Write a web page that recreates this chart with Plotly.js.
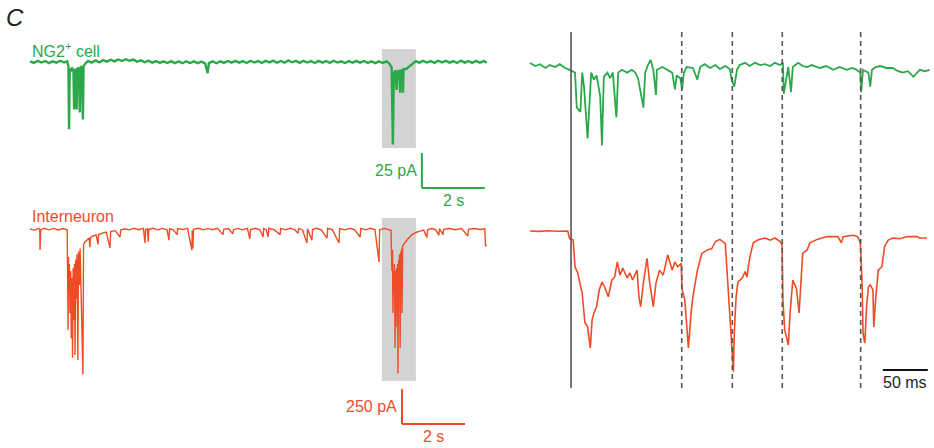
<!DOCTYPE html>
<html><head><meta charset="utf-8">
<script src="https://cdn.plot.ly/plotly-3.0.1.min.js"></script>
<style>html,body{margin:0;padding:0;background:#fff}#chart{width:934px;height:448px}</style>
</head><body><div id="chart"></div>
<script>
// ---------------- DATA ----------------
// Left panel: NG2+ cell, whole trace (time s, current pA)
const ng2T = [0.00,0.12,0.24,0.36,0.48,0.60,0.72,0.84,0.96,1.08,1.18,1.22,1.24,1.26,1.30,1.34,1.38,1.40,1.42,1.46,1.48,1.50,1.55,1.58,1.60,1.64,1.68,1.70,1.76,1.84,1.96,2.08,2.20,2.32,2.44,2.56,2.68,2.80,2.92,3.04,3.16,3.28,3.40,3.52,3.64,3.76,3.88,4.00,4.12,4.24,4.36,4.48,4.60,4.72,4.84,4.96,5.08,5.20,5.32,5.44,5.56,5.64,5.68,5.80,5.92,6.04,6.16,6.28,6.40,6.52,6.64,6.76,6.88,7.00,7.12,7.24,7.36,7.48,7.60,7.72,7.84,7.96,8.08,8.20,8.32,8.44,8.56,8.68,8.80,8.92,9.04,9.16,9.28,9.40,9.52,9.64,9.76,9.88,10.00,10.12,10.24,10.36,10.48,10.60,10.72,10.84,10.96,11.08,11.20,11.32,11.42,11.48,11.52,11.55,11.60,11.64,11.66,11.72,11.75,11.77,11.82,11.84,11.86,11.95,12.05,12.15,12.25,12.36,12.48,12.60,12.72,12.84,12.96,13.08,13.20,13.32,13.44,13.56,13.68,13.80,13.92,14.04,14.16,14.28,14.40,14.50];
const ng2I = [0.4,-0.6,0.8,-0.4,0.7,-0.8,0.5,-0.5,0.9,-0.4,0.5,-3,-48,-5,-6,-4,-7,-34,-6,-5,-34,-5,-4,-36,-4,-3,-41,-3,-1,0.8,-0.4,1.1,-0.3,1.3,0.3,1.6,0.4,1.8,0.7,2.0,0.9,1.7,0.3,1.2,-0.2,1.0,-0.4,0.7,-0.6,0.5,-0.7,0.6,-0.8,0.4,-0.9,0.5,-0.7,0.5,-0.8,0.3,-1.0,-8,-0.8,0.4,-0.9,0.5,-0.6,0.7,-0.5,0.8,-0.5,0.6,-0.7,0.9,-0.4,0.7,-0.6,0.8,-0.3,1.0,-0.5,0.7,-0.5,1.1,-0.2,0.8,-0.6,0.9,-0.4,0.6,-0.7,0.8,-0.5,0.7,-0.6,0.9,-0.4,0.5,-0.7,0.6,-0.5,0.8,-0.5,0.7,-0.6,0.5,-0.8,0.5,-0.7,0.4,-1.5,-4,-59,-8,-6,-20,-7,-6,-22,-6,-6,-22,-5,-5,-3,-1,0.6,-0.5,0.8,-0.4,0.7,-0.6,0.9,-0.3,0.8,-0.5,0.6,-0.7,1.0,-0.4,0.7,-0.6,0.8,-0.5,0.6,-0.4];

// Left panel: interneuron, whole trace (time s, current pA)
const intT = [0.00,0.15,0.28,0.31,0.32,0.34,0.45,0.60,0.75,0.90,1.05,1.18,1.21,1.22,1.24,1.25,1.27,1.29,1.31,1.33,1.35,1.37,1.39,1.41,1.43,1.45,1.47,1.49,1.52,1.54,1.57,1.59,1.68,1.70,1.75,1.82,1.88,1.90,1.92,2.00,2.10,2.16,2.18,2.30,2.42,2.54,2.56,2.70,2.86,2.88,3.00,3.15,3.30,3.45,3.60,3.65,3.67,3.73,3.75,3.77,3.90,4.05,4.20,4.35,4.41,4.43,4.55,4.67,4.69,4.85,5.00,5.14,5.15,5.17,5.19,5.35,5.50,5.65,5.80,5.95,6.13,6.15,6.30,6.44,6.46,6.60,6.75,6.90,6.98,7.00,7.15,7.30,7.40,7.42,7.50,7.56,7.58,7.75,7.94,7.96,8.10,8.25,8.40,8.51,8.53,8.65,8.79,8.81,8.95,8.97,9.10,9.25,9.43,9.45,9.60,9.81,9.83,10.00,10.15,10.30,10.48,10.50,10.65,10.80,10.95,11.08,11.10,11.25,11.40,11.46,11.49,11.51,11.52,11.54,11.56,11.57,11.59,11.61,11.62,11.64,11.65,11.67,11.68,11.70,11.71,11.73,11.75,11.77,11.78,11.80,11.81,11.83,11.86,11.90,12.00,12.13,12.25,12.38,12.50,12.60,12.62,12.75,12.88,12.98,13.00,13.11,13.13,13.30,13.50,13.70,13.90,13.92,14.10,14.30,14.44,14.46,14.50];
const intI = [0,-8,4,-5,-150,-6,5,-6,4,-7,3,-5,-720,-200,-450,-250,-600,-300,-780,-350,-920,-280,-650,-250,-900,-220,-500,-180,-935,-160,-400,-140,-1040,-110,-90,-75,-65,-130,-60,-50,-42,-110,-40,-30,-22,-135,-18,-12,-57,-8,2,-6,5,-5,4,-100,-3,2,-90,-4,5,-6,4,-5,-80,2,-6,-40,3,-4,5,-150,-10,-140,-3,5,-6,4,-5,5,-40,-3,4,-35,-5,4,-6,5,-70,-4,5,-6,-57,3,-5,-57,4,-5,-40,4,-6,5,-4,-30,3,-5,-100,2,-80,-4,5,-6,-65,4,-5,-100,3,-6,5,-4,-57,4,-6,5,-4,-235,-5,4,-6,-10,-300,-150,-600,-300,-450,-250,-850,-300,-500,-280,-700,-250,-1030,-220,-400,-180,-850,-160,-300,-140,-600,-120,-110,-100,-70,-40,-25,-15,-8,-60,-5,3,-5,-45,2,-40,-3,4,-5,3,-50,-2,4,-4,2,-120,-120];

// Right panel: expanded view (time ms, current pA)
const ng2ZoomT = [0,6,11,17,22,28,33,39,44,50,52,56,58,60,64,68,71,74,78,80,82,86,89,92,96,98,102,108,113,117,120,126,128,131,134,137,140,141,147,152,158,161,163,167,169,171,174,181,186,189,194,200,206,211,217,222,224,227,230,233,239,244,250,256,261,267,272,278,281,282,286,287,290,292,298,303,308,313,322,329,337,344,352,358,363,367,368,370,376,378,380,384,389,396,403,409,414,420,426,430,433,439,444];
const ng2ZoomI = [2.9,0.7,2,-0.7,1.4,0,2,-0.7,-2,-4,-29,-32,-4,-14,-51,-4,-9,-6,-21,-56,-7,-4,-8,-4,-36,-4,-2,-4,-2,-4,-8,-29,-4,1.4,5,-2,-20,-2,0,-2,-4,-16,-6,-8,-16,-4,0,-0.7,-9,0,2,-0.7,1.4,-1.4,0.7,-1.4,-9,-14,-2,1.4,3,0.7,3,1.4,2,0.7,3,1.4,3,-19,-2,0,-18,0,3,0.7,0,1.4,-0.7,0.7,-2,0,-2,-0.7,-2,-4,-18,-2,-4,-14,-2,0,0.7,-0.7,-0.7,-3,-4,-3,-7,-4,-2,-3,-2];

const intZoomT = [0,10,20,30,42,44,48,50,53,58,61,64,67,69,71,74,77,80,83,87,91,94,97,100,103,108,111,114,119,121,123,126,130,133,137,140,144,148,153,158,161,164,168,169,172,176,179,181,186,191,197,202,206,211,217,220,223,226,227,229,231,236,239,241,244,248,253,261,267,272,278,280,281,283,287,289,292,296,299,301,303,308,311,319,330,342,346,348,359,364,367,369,370,372,374,376,378,381,382,384,387,391,394,398,403,411,419,430,433,441];
const intZoomI = [0,-3,2,-2,0,-55,-65,-255,-300,-445,-655,-685,-835,-635,-585,-540,-420,-365,-400,-470,-350,-330,-220,-315,-265,-335,-300,-350,-280,-470,-540,-370,-195,-370,-540,-370,-280,-315,-170,-280,-220,-255,-230,-420,-490,-835,-585,-470,-280,-160,-135,-125,-75,-60,-90,-370,-685,-1005,-730,-470,-365,-335,-290,-330,-195,-85,-65,-50,-65,-50,-75,-100,-490,-705,-815,-585,-350,-410,-585,-330,-160,-135,-85,-60,-40,-40,-85,-40,-30,-40,-85,-370,-730,-800,-540,-400,-385,-420,-685,-490,-280,-255,-110,-65,-50,-55,-40,-40,-50,-50];

// Event onsets marked in the expanded view (ms)
const onsetSolid = [45.6];
const onsetDashed = [168.6, 224.8, 280.3, 367.4];

// Shaded window of the whole trace that is expanded (s)
const windowS = [11.17, 12.25];

// Scale bars
const ng2Bar = {pA: 25, s: 2};
const intBar = {pA: 250, s: 2};
const zoomBar = {ms: 50};

// ---------------- LAYOUT ----------------
const W = 934, H = 448;
const GREEN = '#2aa84a', RED = '#ef4b26', GREY = '#d3d3d3', DARK = '#555555';
const FONT = 'Liberation Sans, Arial, Helvetica, sans-serif';

function xAx(pxL, pxR, pxRef, pxPerUnit) {
  return {domain: [pxL / W, pxR / W], range: [(pxL - pxRef) / pxPerUnit, (pxR - pxRef) / pxPerUnit], visible: false, fixedrange: true};
}
function yAx(pxTop, pxBot, pxRef, pxPerUnit, anchor) {
  return {domain: [1 - pxBot / H, 1 - pxTop / H], range: [(pxRef - pxBot) / pxPerUnit, (pxRef - pxTop) / pxPerUnit], visible: false, fixedrange: true, anchor: anchor};
}
const py = p => 1 - p / H;

const traces = [
  {x: ng2T, y: ng2I, xaxis: 'x', yaxis: 'y', mode: 'lines', line: {color: GREEN, width: 2.4}, hoverinfo: 'skip'},
  {x: intT, y: intI, xaxis: 'x', yaxis: 'y2', mode: 'lines', line: {color: RED, width: 1.4}, hoverinfo: 'skip'},
  {x: ng2ZoomT, y: ng2ZoomI, xaxis: 'x2', yaxis: 'y3', mode: 'lines', line: {color: GREEN, width: 1.8}, hoverinfo: 'skip'},
  {x: intZoomT, y: intZoomI, xaxis: 'x2', yaxis: 'y4', mode: 'lines', line: {color: RED, width: 1.6}, hoverinfo: 'skip'}
];

// scale-bar anchors (layout positions)
const gBarT = 12.44, gBarV = -90;
const rBarT = 11.81, rBarV = -1393;
const zBarT = 392, zBarV = -993;

const shapes = [
  {type: 'rect', xref: 'x', yref: 'y', x0: windowS[0], x1: windowS[1], y0: -61.4, y1: 9.3, fillcolor: GREY, line: {width: 0}, layer: 'below'},
  {type: 'rect', xref: 'x', yref: 'y2', x0: windowS[0], x1: windowS[1], y0: -1086, y1: 79, fillcolor: GREY, line: {width: 0}, layer: 'below'},
  {type: 'line', xref: 'x', yref: 'y', x0: gBarT, x1: gBarT, y0: gBarV, y1: gBarV + ng2Bar.pA, line: {color: GREEN, width: 2}},
  {type: 'line', xref: 'x', yref: 'y', x0: gBarT, x1: gBarT + ng2Bar.s, y0: gBarV, y1: gBarV, line: {color: GREEN, width: 2}},
  {type: 'line', xref: 'x', yref: 'y2', x0: rBarT, x1: rBarT, y0: rBarV, y1: rBarV + intBar.pA, line: {color: RED, width: 2}},
  {type: 'line', xref: 'x', yref: 'y2', x0: rBarT, x1: rBarT + intBar.s, y0: rBarV, y1: rBarV, line: {color: RED, width: 2}},
  {type: 'line', xref: 'x2', yref: 'y4', x0: zBarT, x1: zBarT + zoomBar.ms, y0: zBarV, y1: zBarV, line: {color: '#111', width: 2}}
];
onsetSolid.forEach(t => shapes.push({type: 'line', xref: 'x2', yref: 'paper', x0: t, x1: t, y0: py(388), y1: py(32), line: {color: DARK, width: 1.6}}));
onsetDashed.forEach(t => shapes.push({type: 'line', xref: 'x2', yref: 'paper', x0: t, x1: t, y0: py(388), y1: py(32), line: {color: DARK, width: 1.6, dash: '5px,4px'}}));

const ann = (o) => Object.assign({showarrow: false, font: {family: FONT, size: 16}}, o);
const annotations = [
  ann({xref: 'paper', yref: 'paper', x: 4 / W, y: py(17), xanchor: 'left', yanchor: 'middle', text: '<i>C</i>', font: {family: FONT, size: 24, color: '#222'}}),
  ann({xref: 'paper', yref: 'paper', x: 30 / W, y: py(50), xanchor: 'left', yanchor: 'middle', text: 'NG2<sup>+</sup> cell', font: {family: FONT, size: 16, color: GREEN}}),
  ann({xref: 'paper', yref: 'paper', x: 30 / W, y: py(216), xanchor: 'left', yanchor: 'middle', text: 'Interneuron', font: {family: FONT, size: 16, color: RED}}),
  ann({xref: 'x', yref: 'y', x: gBarT, y: gBarV + ng2Bar.pA / 2, xanchor: 'right', yanchor: 'middle', xshift: -3, text: ng2Bar.pA + ' pA', font: {family: FONT, size: 16, color: GREEN}}),
  ann({xref: 'x', yref: 'y', x: gBarT + ng2Bar.s / 2, y: gBarV, xanchor: 'center', yanchor: 'top', yshift: -2, text: ng2Bar.s + ' s', font: {family: FONT, size: 16, color: GREEN}}),
  ann({xref: 'x', yref: 'y2', x: rBarT, y: rBarV + intBar.pA / 2, xanchor: 'right', yanchor: 'middle', xshift: -3, text: intBar.pA + ' pA', font: {family: FONT, size: 16, color: RED}}),
  ann({xref: 'x', yref: 'y2', x: rBarT + intBar.s / 2, y: rBarV, xanchor: 'center', yanchor: 'top', yshift: -2, text: intBar.s + ' s', font: {family: FONT, size: 16, color: RED}}),
  ann({xref: 'x2', yref: 'y4', x: zBarT + zoomBar.ms / 2, y: zBarV, xanchor: 'center', yanchor: 'top', yshift: -2, text: zoomBar.ms + ' ms', font: {family: FONT, size: 16, color: '#222'}})
];

const layout = {
  width: W, height: H,
  margin: {l: 0, r: 0, t: 0, b: 0},
  paper_bgcolor: '#ffffff', plot_bgcolor: 'rgba(0,0,0,0)',
  showlegend: false,
  xaxis: xAx(15, 500, 30, 31.5),
  xaxis2: xAx(522, 934, 530, 0.9),
  yaxis: yAx(25, 205, 62, 1.4, 'x'),
  yaxis2: yAx(205, 445, 229, 0.14, 'x'),
  yaxis3: yAx(25, 200, 67, 1.4, 'x2'),
  yaxis4: yAx(200, 445, 231, 0.14, 'x2'),
  shapes: shapes,
  annotations: annotations
};

Plotly.newPlot('chart', traces, layout, {staticPlot: true, displayModeBar: false});
</script>
</body></html>
